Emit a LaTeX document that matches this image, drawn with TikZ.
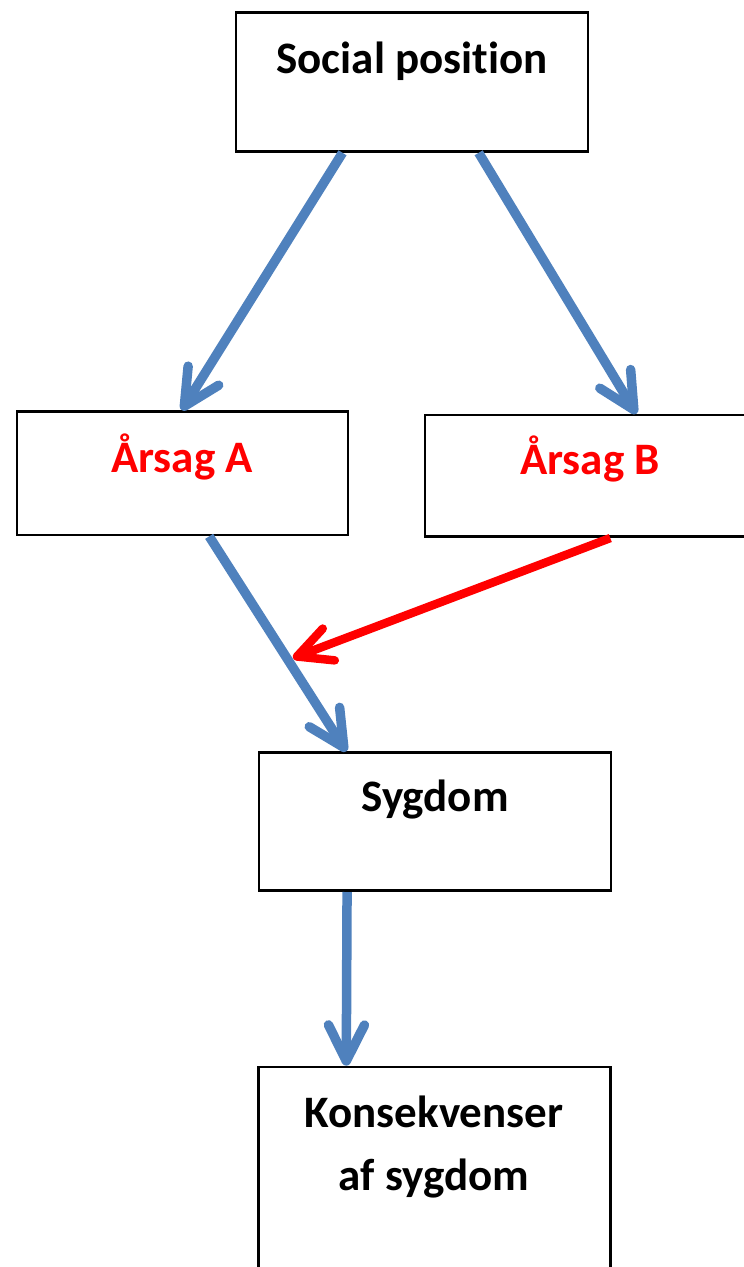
\documentclass[tikz,border=0pt]{standalone}
\usepackage{fontspec}
\setmainfont{Carlito}[Ligatures=NoCommon]
\usetikzlibrary{arrows.meta,calc}
\definecolor{flowblue}{RGB}{79,129,189}
\definecolor{flowred}{RGB}{255,0,0}
\begin{document}
\begin{tikzpicture}[x=1pt,y=-1pt,
  box/.style={draw=black, line width=2.6pt, rectangle, inner sep=0pt},
  txt/.style={font=\fontsize{45}{54}\selectfont\bfseries, inner sep=0pt, anchor=base},
  flow/.style={draw=flowblue, line width=9.5pt,
    -{Straight Barb[length=36pt, width=36pt, round]}},
  cause/.style={draw=flowred, line width=8.5pt,
    -{Straight Barb[length=34pt, width=34pt, round]}}]
\useasboundingbox (0,0) rectangle (744,1267);

% boxes
\node[box, minimum width=352pt, minimum height=139pt] (soc) at (412,82) {};
\node[box, minimum width=331pt, minimum height=123.5pt] (a) at (182.5,473.3) {};
\node[box, minimum width=335pt, minimum height=121.7pt] (b) at (592.4,475.9) {};
\node[box, minimum width=352pt, minimum height=138pt] (syg) at (435,821.7) {};
\node[box, minimum width=352pt, minimum height=223pt] (kon) at (434.2,1178.5) {};

% labels
\node[txt] (socT) at (412,73) {Social position};
\node[txt, text=flowred] (aT) at (182,472) {Årsag A};
\node[txt, text=flowred] (bT) at (590,474) {Årsag B};
\node[txt] (sygT) at (435,811) {Sygdom};
\node[txt] (konT) at (434,1127)
  {\vtop{\baselineskip=63pt\halign{\hfil#\hfil\cr Konsekvenser\cr af sygdom\cr}}};

% connector end points on the box borders
\coordinate (s1) at ($(soc.south west)!0.304!(soc.south east)$);
\coordinate (s2) at ($(soc.south west)!0.688!(soc.south east)$);
\coordinate (a1) at ($(a.north west)!0.498!(a.north east)$);
\coordinate (a2) at ($(a.south west)!0.58!(a.south east)$);
\coordinate (b1) at ($(b.north west)!0.63!(b.north east)$);
\coordinate (b2) at ($(b.south west)!0.553!(b.south east)$);
\coordinate (y1) at ($(syg.north west)!0.25!(syg.north east)$);
\coordinate (y2) at ($(syg.south west)!0.252!(syg.south east)$);
\coordinate (k1) at ($(kon.north west)!0.252!(kon.north east)$);
\coordinate (hit) at (293,658);

% connectors
\draw[flow] (s1) -- (a1);
\draw[flow] (s2) -- (b1);
\draw[flow] (a2) -- (y1);
\draw[cause] (b2) -- (hit);
\draw[flow] (y2) -- (k1);
\end{tikzpicture}
\end{document}
